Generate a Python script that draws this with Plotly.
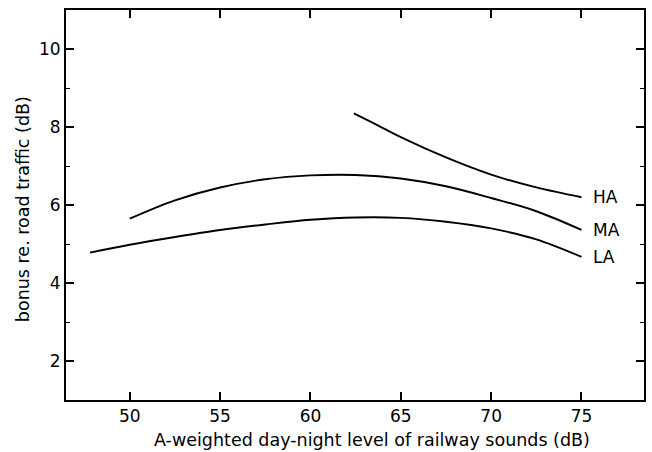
import plotly.graph_objects as go

# Data
LA_x = [47.8, 50, 52.5, 55, 57.5, 60, 62.5, 65, 67.5, 70, 72.5, 75]
LA_y = [4.78, 4.98, 5.18, 5.36, 5.5, 5.62, 5.68, 5.67, 5.57, 5.4, 5.12, 4.67]
MA_x = [50, 52.5, 55, 57.5, 60, 62.5, 65, 67.5, 70, 72.5, 75]
MA_y = [5.65, 6.12, 6.45, 6.66, 6.76, 6.77, 6.68, 6.48, 6.18, 5.84, 5.36]
HA_x = [62.4, 63.7, 65, 67.5, 70, 72.5, 75]
HA_y = [8.35, 8.05, 7.74, 7.22, 6.78, 6.45, 6.2]
series = [("HA", HA_x, HA_y), ("MA", MA_x, MA_y), ("LA", LA_x, LA_y)]

x_ticks = [50, 55, 60, 65, 70, 75]
y_ticks = [2, 4, 6, 8, 10]
x_title = "A-weighted day-night level of railway sounds (dB)"
y_title = "bonus re. road traffic (dB)"

FONT = "DejaVu Sans, Liberation Sans, Arial, sans-serif"

fig = go.Figure()
for name, xs, ys in series:
    fig.add_trace(go.Scatter(x=xs, y=ys, mode="lines", name=name,
                             line=dict(color="black", width=1.9, shape="spline", smoothing=1.0),
                             showlegend=False))
    fig.add_annotation(x=xs[-1] + 0.55, y=ys[-1], text=name, showarrow=False,
                       xanchor="left", yanchor="middle",
                       font=dict(size=17, color="black"))

fig.add_annotation(xref="paper", yref="paper", x=0.53, y=-0.103, text=x_title,
                   showarrow=False, xanchor="center", yanchor="middle",
                   font=dict(size=17.5, color="black"))
fig.add_annotation(xref="paper", yref="paper", x=-0.074, y=0.49, text=y_title,
                   showarrow=False, xanchor="center", yanchor="middle", textangle=-90,
                   font=dict(size=17.5, color="black"))

fig.update_layout(
    width=652, height=452,
    margin=dict(l=66, r=6, t=10, b=52),
    paper_bgcolor="white", plot_bgcolor="white",
    font=dict(family=FONT, color="black", size=17),
)
fig.update_xaxes(range=[46.47, 78.46], tickvals=x_ticks, ticks="inside", ticklen=8,
                 tickwidth=1.5, tickcolor="black", showline=True, linewidth=2,
                 linecolor="black", mirror="ticks", showgrid=False, zeroline=False,
                 tickfont=dict(size=17))
fig.update_yaxes(range=[1, 11], tickvals=y_ticks, ticks="inside", ticklen=8,
                 tickwidth=1.5, tickcolor="black", showline=True, linewidth=2,
                 linecolor="black", mirror="ticks", showgrid=False, zeroline=False,
                 tickfont=dict(size=17),
                 minor=dict(dtick=1, tick0=1, ticks="inside", ticklen=4,
                            tickcolor="black", tickwidth=1.2, showgrid=False))

fig.write_html("out.html")
